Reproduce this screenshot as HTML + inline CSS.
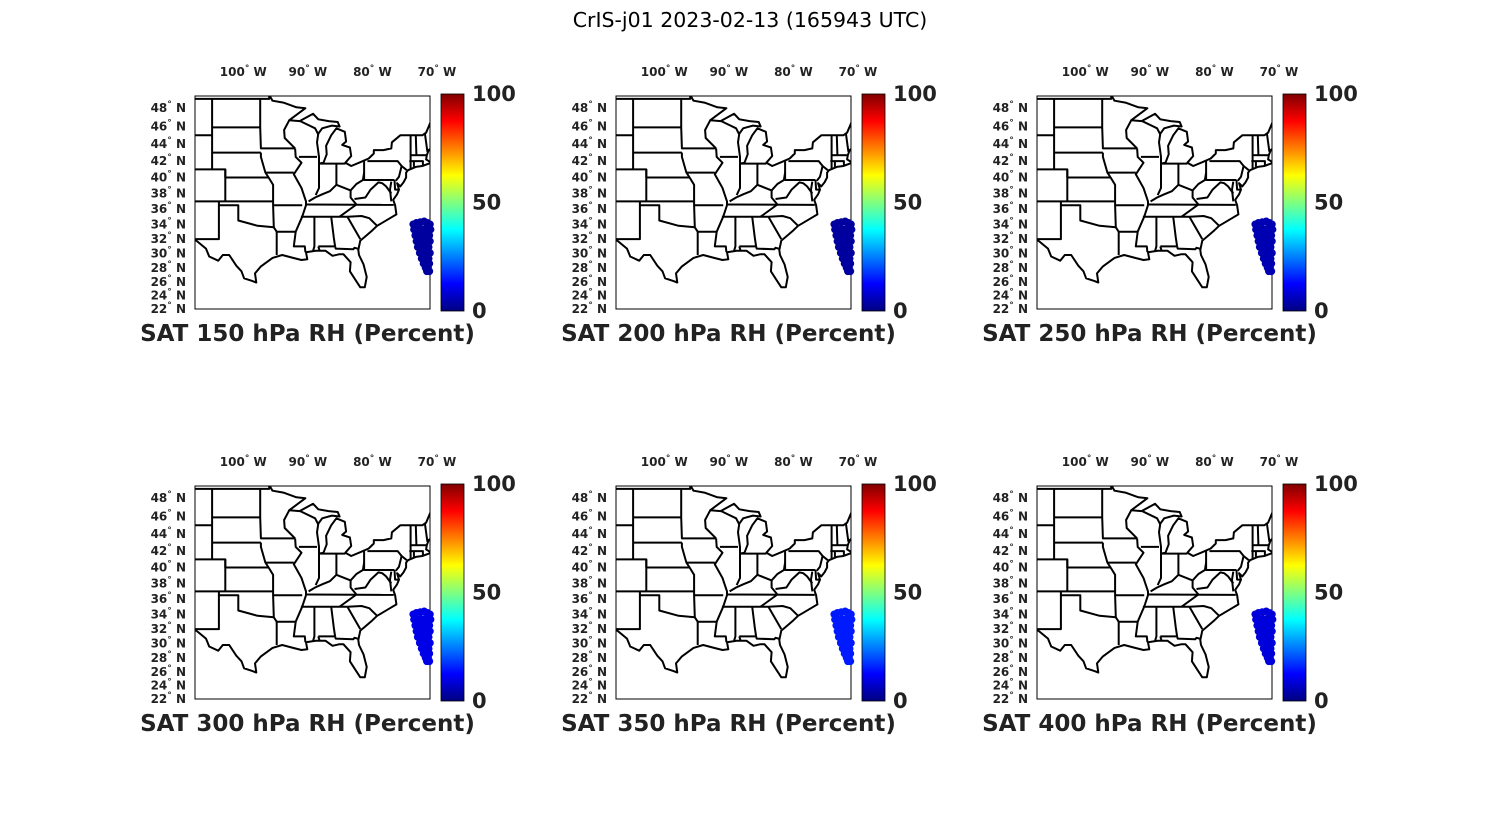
<!DOCTYPE html>
<html><head><meta charset="utf-8"><style>
html,body{margin:0;padding:0;background:#fff;}
svg{display:block;font-family:"DejaVu Sans","Liberation Sans",sans-serif;}
</style></head><body>
<svg id="fig" width="1500" height="825" viewBox="0 0 1500 825">
<rect width="1500" height="825" fill="#fff"/>
<text x="750" y="27" text-anchor="middle" font-size="20.5" fill="#000">CrIS-j01 2023-02-13 (165943 UTC)</text>
<defs>
<linearGradient id="jet" x1="0" y1="1" x2="0" y2="0">
<stop offset="0" stop-color="#000080"/><stop offset="0.125" stop-color="#0000ff"/>
<stop offset="0.375" stop-color="#00ffff"/><stop offset="0.625" stop-color="#ffff00"/>
<stop offset="0.875" stop-color="#ff0000"/><stop offset="1" stop-color="#800000"/>
</linearGradient>
</defs>
</svg>
<script>
// ---- data ----
const levels = [150, 200, 250, 300, 350, 400];
const rhValues = [3, 3, 5, 10, 15, 9];
const lonTicks = [-100, -90, -80, -70];
const latTicks = [48,46,44,42,40,38,36,34,32,30,28,26,24,22];
const cbTicks = [0, 50, 100];
// observation footprints [lon, lat]
const obsLon = [-72.9,-72.4,-71.8,-71.2,-70.7,-70.3,-72.8,-72.3,-71.7,-71.1,-70.6,-70.2,-72.6,-72.1,-71.5,-70.9,-70.4,-72.4,-71.9,-71.4,-70.8,-70.3,-72.2,-71.6,-71.0,-70.5,-71.9,-71.4,-70.8,-70.3,-71.6,-71.1,-70.5,-71.3,-70.8,-70.4,-71.0,-70.6,-70.8,-70.4];
const obsLat = [34.0,34.2,34.3,34.4,34.2,34.0,33.3,33.3,33.4,33.4,33.4,33.3,32.5,32.5,32.5,32.5,32.5,31.7,31.7,31.7,31.7,31.7,30.9,30.9,30.9,30.9,30.1,30.1,30.1,30.1,29.3,29.3,29.3,28.6,28.6,28.6,28.0,28.0,27.5,27.5];
// map geometry (lon/lat polylines)
const lines = [
[[-108,49],[-95.2,49],[-95.2,49.4],[-94.7,48.8],[-93,48.6],[-91,48.1],[-89.6,48],[-92.1,46.7],[-90.5,46.6],[-88.4,47.4],[-87.6,46.8],[-86,46.6],[-84.6,46.5],[-84.3,46.0],[-85.5,46.1],[-87,45.8],[-87.6,45.2],[-87.8,44.2],[-87.5,42.5],[-87.5,41.7],[-86.8,41.8],[-86.3,42.8],[-86.4,43.8],[-85.6,45.0],[-84.8,45.8],[-83.5,45.4],[-83.3,44.3],[-83.9,43.9],[-82.7,43.6],[-82.5,42.6],[-83.4,41.8],[-82.5,41.4],[-81,41.9],[-79.8,42.3],[-79,42.9],[-79,43.3],[-77.5,43.3],[-76.3,43.5],[-76.2,44.2],[-74.9,45],[-71.5,45],[-70.9,45.3],[-70.2,46.5],[-69.3,47.4],[-68,47.5]],
[[-68,44.3],[-69.3,44],[-70.5,43.3],[-70.8,42.7],[-70.9,42.2],[-70.1,41.8],[-71.5,41.4],[-72.5,41.3],[-73.7,40.9],[-74,40.6],[-74,40],[-74.4,39.4],[-74.9,38.9],[-75.4,39.3],[-75.1,38.5],[-75.4,37.9],[-76,37.2],[-75.7,36.5],[-75.5,35.3],[-76.5,34.8],[-77.7,34.2],[-78.5,33.8],[-79.2,33.2],[-80.4,32.3],[-81.1,31.8],[-81.4,30.5],[-81.3,29.8],[-80.6,28.5],[-80.1,26.7],[-80.4,25.2],[-81.1,25.2],[-81.8,26.2],[-82.7,27.5],[-82.6,28.8],[-83.7,29.9],[-84.4,29.9],[-85.4,29.7],[-86.5,30.4],[-88,30.4],[-89.5,30.2],[-89.3,29.2],[-90.2,29.1],[-91.5,29.4],[-93.2,29.8],[-94.7,29.4],[-96.5,28.2],[-97.4,27.2],[-97.2,25.9],[-97.8,26.1],[-99.1,26.5],[-99.5,27.5],[-100.3,28.3],[-101.4,29.8],[-102.4,29.8],[-103.1,29.0],[-104.5,29.6],[-105.0,30.7],[-106.5,31.8],[-108,31.8]],
[[-104.05,49],[-104.05,41]],[[-108,45],[-104.05,45]],[[-104.05,45.9],[-96.6,45.9]],[[-104.05,43],[-96.5,43]],[[-108,41],[-102,41],[-102,40],[-95.3,40]],
[[-102,41],[-102,37]],[[-108,37],[-94.6,37]],[[-103,37],[-103,32],[-108,32]],[[-103,36.5],[-100,36.5],[-100,34.5],[-97,33.8],[-94.5,33.6]],
[[-94.05,33],[-94.05,29.8]],[[-96.6,49],[-96.6,45.9],[-96.5,43.5],[-91.2,43.5]],[[-96.5,43],[-96.5,42.5],[-95.8,40.6],[-95.3,40],[-94.6,39.1],[-94.6,36.5],[-94.5,33.6],[-94.05,33]],
[[-95.8,40.6],[-91.4,40.6]],[[-94.6,36.5],[-90.1,36.5]],[[-94.05,33],[-91.2,33]],
[[-91.2,43.5],[-91.1,42.5],[-90.2,41.8],[-91.4,40.4],[-90.2,38.7],[-89.5,37],[-89.5,36.5],[-90.1,35],[-91.1,33],[-91.4,31],[-89.7,31],[-89.6,30.2]],
[[-92.1,46.7],[-92.9,45.6],[-92.8,44.7],[-91.2,43.5]],[[-90.6,42.5],[-87.8,42.5]],[[-90.4,46.6],[-88.1,45.8],[-87.6,45.1]],
[[-87.5,41.7],[-87.5,38.7],[-88,37.8]],[[-89.1,37.0],[-88.1,37.5],[-87,37.9],[-85.8,38.3],[-84.8,39.1],[-82.6,38.4],[-81.7,39.2],[-80.7,39.7],[-80.5,40.6]],
[[-84.8,41.7],[-84.8,39.1]],[[-87.5,41.7],[-83.4,41.7]],[[-80.5,42],[-80.5,39.7],[-75.8,39.7]],[[-80,42],[-75.3,42],[-74.7,41.4],[-75.1,40.1],[-75.6,39.6]],
[[-74.7,41.4],[-73.9,40.9]],[[-73.3,45],[-73.3,41.1]],[[-72.5,45],[-72.4,42.7]],[[-73.3,42.7],[-70.9,42.7]],[[-73.5,42],[-71.4,42],[-71.4,41.4]],[[-72.8,42],[-72.8,41.3]],[[-71.1,45.3],[-70.7,43.1]],
[[-89.5,36.6],[-75.9,36.55]],[[-81.7,36.6],[-84.3,35.0]],[[-90.3,35],[-83.1,35]],[[-83.1,35],[-80.9,35.1],[-79.7,34.8],[-78.5,33.8]],[[-83.1,35],[-81.1,32.0]],
[[-88.2,35],[-88.2,31],[-88.4,30.4]],[[-85.6,35],[-85.2,32.2],[-85,31]],[[-87.6,31],[-85,31]],[[-87.6,31],[-87.4,30.4]],[[-85,31],[-84.9,30.7],[-82.2,30.6],[-82,30.8],[-81.5,30.7]],
[[-82.6,38.4],[-82.6,37.5],[-81.7,36.6]],[[-82,37.3],[-80.3,37.5],[-79.5,38.5],[-78.3,39.4],[-77.7,39.3],[-77.1,38.9],[-76.3,38]],
[[-75.8,39.7],[-75.7,38.5],[-75.1,38.5]],[[-76.3,39.5],[-76.5,38.5],[-76.3,37]]
];
// ---- layout ----
const colX = [195, 616, 1037];
const rowY = [96, 486];
const boxW = 235, boxH = 213;
const lonMin = -106.7, lonMax = -70.3;
const mercMin = Math.log(Math.tan(Math.PI/4 + 22*Math.PI/360));
const mercMax = Math.log(Math.tan(Math.PI/4 + 49.3*Math.PI/360));
function merc(lat){return Math.log(Math.tan(Math.PI/4 + lat*Math.PI/360));}
function jet(v){
  const t=Math.max(0,Math.min(1,v/100));
  const f=(x)=>Math.max(0,Math.min(1,1.5-Math.abs(4*t-x)));
  return `rgb(${Math.round(f(3)*255)},${Math.round(f(2)*255)},${Math.round(f(1)*255)})`;
}
const NS='http://www.w3.org/2000/svg';
const svg=document.getElementById('fig');
function mk(tag,attrs,parent){const e=document.createElementNS(NS,tag);for(const k in attrs)e.setAttribute(k,attrs[k]);(parent||svg).appendChild(e);return e;}

levels.forEach((lev,i)=>{
  const bx=colX[i%3], by=rowY[Math.floor(i/3)];
  const xs=(lon)=>bx+(lon-lonMin)/(lonMax-lonMin)*boxW;
  const ys=(lat)=>by+boxH-(merc(lat)-mercMin)/(mercMax-mercMin)*boxH;
  const g=mk('g',{});
  
  
  const cp=mk('clipPath',{id:'clip'+i},g);
  mk('rect',{x:bx,y:by,width:boxW,height:boxH},cp);
  const mg=mk('g',{'clip-path':`url(#clip${i})`},g);
  
  
  lines.forEach(l=>{
    mk('polyline',{points:l.map(p=>xs(p[0]).toFixed(1)+','+ys(p[1]).toFixed(1)).join(' '),fill:'none',stroke:'#000','stroke-width':2,'stroke-linejoin':'round'},mg);
  });
  const frame=mk('rect',{x:bx,y:by,width:boxW,height:boxH,fill:'none',stroke:'#000','stroke-width':1},g);
  
  
  const og=mk('g',{},g);
  
  
  obsLon.forEach((lo,k)=>{
    const c=mk('circle',{cx:xs(lo).toFixed(1),cy:ys(obsLat[k]).toFixed(1),r:3.8,fill:jet(rhValues[i])},og);
    
    
  });
  lonTicks.forEach(lo=>{
    const t=mk('text',{x:xs(lo)+5,y:by-20,'text-anchor':'middle','font-size':12,'font-weight':'bold',fill:'#222'},g);
    
    
    t.innerHTML=`${-lo}<tspan dy="-5" font-size="9">°</tspan><tspan dy="5"> W</tspan>`;
  });
  latTicks.forEach(la=>{
    const t=mk('text',{x:bx-9,y:ys(la)+4,'text-anchor':'end','font-size':12,'font-weight':'bold',fill:'#222'},g);
    
    
    t.innerHTML=`${la}<tspan dy="-5" font-size="9">°</tspan><tspan dy="5"> N</tspan>`;
  });
  const cx=bx+246, cy=by-2, ch=217;
  const cb=mk('rect',{x:cx,y:cy,width:23,height:ch,fill:'url(#jet)',stroke:'#000','stroke-width':0.8},g);
  
  
  cbTicks.forEach(v=>{
    const t=mk('text',{x:cx+31,y:cy+ch-v/100*ch+7,'font-size':21,'font-weight':'bold',fill:'#222'},g);
    
    
    t.textContent=v;
  });
  const tt=mk('text',{x:bx+112.5,y:by+245,'text-anchor':'middle','font-size':23,'font-weight':'bold',fill:'#222'},g);
  
  
  tt.textContent=`SAT ${lev} hPa RH (Percent)`;
});
</script>
</body></html>
